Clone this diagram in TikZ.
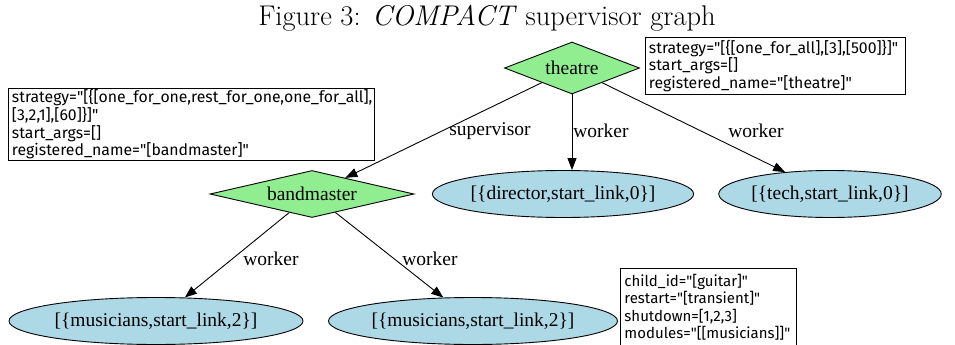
\documentclass[tikz,border=0pt]{standalone}
\usepackage{fontspec}
\usetikzlibrary{shapes.geometric,arrows.meta}
\newfontfamily\gvfont{Liberation Serif}
\newfontfamily\notefont{Fira Sans}
\definecolor{gvgreen}{HTML}{90EE90}
\definecolor{gvblue}{HTML}{ADD8E6}
\begin{document}
\begin{tikzpicture}[x=1pt,y=-1pt,
  gvtext/.style={font=\gvfont\fontsize{19.5}{22}\selectfont},
  supbox/.style={gvtext,shape=diamond,draw=black,fill=gvgreen,inner sep=0pt,line width=0.9pt},
  workbox/.style={gvtext,shape=ellipse,draw=black,fill=gvblue,inner sep=0pt,minimum height=47pt,line width=0.9pt},
  notebox/.style={draw=black,line width=0.9pt,anchor=north west,align=left,inner xsep=3.5pt,inner ysep=0pt,
    font=\notefont\fontsize{15.8}{17.7}\selectfont},
  edgelbl/.style={gvtext,inner sep=0pt},
  link/.style={-{Triangle[length=12pt,width=9pt]},line width=0.9pt}]
\useasboundingbox (0,0) rectangle (955,345);

% caption
\node (caption) at (487,18) {\fontsize{28.5}{32}\selectfont Figure 3: \textit{COMPACT} supervisor graph};

% supervisors
\node[supbox,aspect=2.6,minimum width=135pt,minimum height=52pt] (theatre) at (572,68) {theatre};
\node[supbox,aspect=4.3,minimum width=204pt,minimum height=47pt] (bandmaster) at (312,194) {bandmaster};

% workers
\node[workbox,minimum width=252pt] (director) at (563,194) {[\{director,start\_link,0\}]};
\node[workbox,minimum width=197pt] (tech) at (830,194) {[\{tech,start\_link,0\}]};
\node[workbox,minimum width=294pt] (mus1) at (156,321) {[\{musicians,start\_link,2\}]};
\node[workbox,minimum width=289pt] (mus2) at (473,321) {[\{musicians,start\_link,2\}]};

% notes
\node[notebox,text width=253pt,minimum height=57pt] (ntheatre) at (645,37)
  {strategy="[\{[one\_for\_all],[3],[500]\}]"\\start\_args=[]\\registered\_name="[theatre]"};
\node[notebox,text width=359pt,minimum height=72pt] (nband) at (8,88)
  {strategy="[\{[one\_for\_one,rest\_for\_one,one\_for\_all],\\\relax[3,2,1],[60]\}]"\\start\_args=[]\\registered\_name="[bandmaster]"};
\node[notebox,text width=168pt,minimum height=78pt,font=\notefont\fontsize{15}{17.5}\selectfont,inner xsep=4pt] (nchild) at (620,268)
  {child\_id="[guitar]"\\restart="[transient]"\\shutdown=[1,2,3]\\modules="[[musicians]]"};

% edges
\draw[link] (theatre) -- (bandmaster);
\draw[link] (theatre.south) -- (director.north -| theatre.south);
\draw[link] (theatre) -- (tech);
\draw[link] (bandmaster) -- (mus1);
\draw[link] (bandmaster) -- (mus2);

% edge labels
\node[edgelbl] (lsup) at (490,131) {supervisor};
\node[edgelbl] (ldir) at (601,131) {worker};
\node[edgelbl] (ltech) at (756,131) {worker};
\node[edgelbl] (lmus1) at (271,259) {worker};
\node[edgelbl] (lmus2) at (430,259) {worker};
\end{tikzpicture}
\end{document}
